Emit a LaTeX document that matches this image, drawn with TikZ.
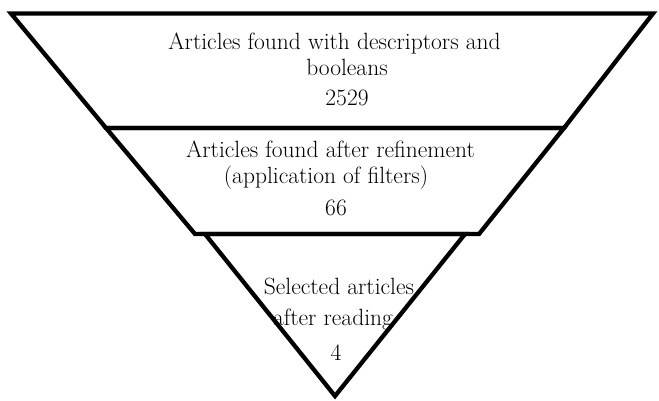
\documentclass[tikz,border=0pt]{standalone}
\tikzset{
  funnel/.style={draw=black, line width=4.3pt, line join=miter},
  lbl/.style={anchor=base, inner sep=0pt, font=\fontsize{23.5}{28}\selectfont},
}
\begin{document}
\begin{tikzpicture}[x=1pt,y=-1pt]
\useasboundingbox (0,0) rectangle (659,401);
% corners
\coordinate (a1) at (11,13.5);
\coordinate (a2) at (653,13.5);
\coordinate (b2) at (564,128);
\coordinate (b1) at (106,128);
\coordinate (c2) at (479,234);
\coordinate (c1) at (195,234);
\coordinate (d1) at (205,234);
\coordinate (d2) at (465,234);
\coordinate (apex) at (335,396);
% shapes
\draw[funnel] (a1) -- (a2) -- (b2) -- (b1) -- cycle;
\draw[funnel] (b1) -- (b2) -- (c2) -- (c1) -- cycle;
\draw[funnel] (d1) -- (d2) -- (apex) -- cycle;
% texts
\node[lbl] (t1a) at (334.5,50) {Articles found with descriptors and};
\node[lbl] (t1b) at (347,76) {booleans};
\node[lbl] (t1c) at (347,106) {2529};
\node[lbl] (t2a) at (330.5,158) {Articles found after refinement};
\node[lbl] (t2b) at (326,183) {(application of filters)};
\node[lbl] (t2c) at (336,215) {66};
\node[lbl] (t3a) at (339,294) {Selected articles};
\node[lbl] (t3b) at (333,325) {after reading};
\node[lbl] (t3c) at (336,360) {4};
\end{tikzpicture}
\end{document}
